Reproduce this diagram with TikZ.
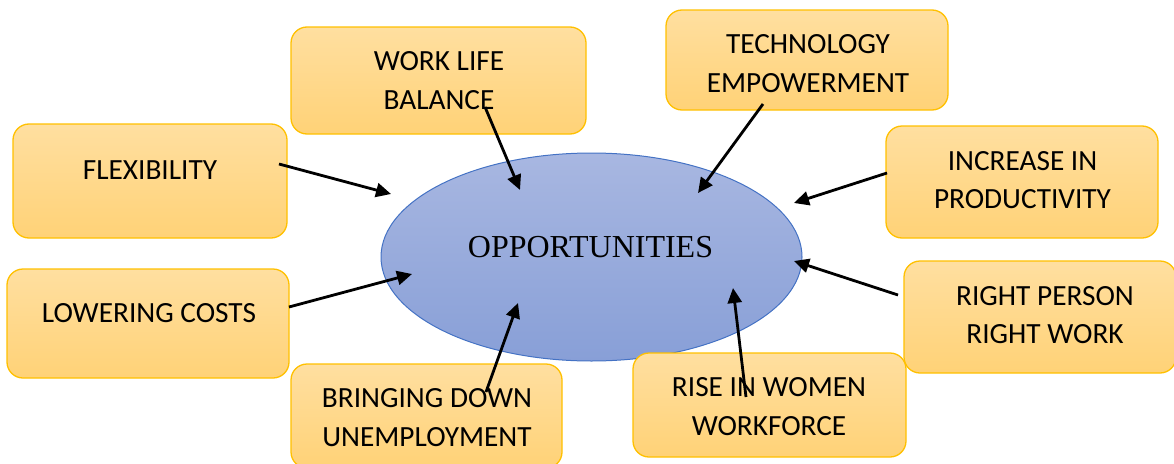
\documentclass[tikz,border=0pt]{standalone}
\usepackage{fontspec}
\newfontfamily\boxfont{Carlito}
\newfontfamily\ellfont{Liberation Serif}
\usetikzlibrary{arrows.meta,shapes.geometric}
\definecolor{boxtop}{HTML}{FFDFA0}
\definecolor{boxbot}{HTML}{FFD277}
\definecolor{boxline}{HTML}{FFC000}
\definecolor{elltop}{HTML}{A8B7E1}
\definecolor{ellbot}{HTML}{889FD7}
\definecolor{ellline}{HTML}{4472C4}
\begin{document}
\begin{tikzpicture}[x=1pt,y=-1pt,
  box/.style={draw=boxline, line width=1.3pt, rounded corners=16pt, top color=boxtop, bottom color=boxbot, inner sep=0pt},
  lbl/.style={font=\boxfont\fontsize{29.3}{38.5}\selectfont, align=center, inner sep=0pt},
  conn/.style={line width=2.8pt, -{Triangle[length=15pt,width=14pt]}}]
\useasboundingbox (0,0) rectangle (1174,463);
\clip (0,0) rectangle (1174,463);
% central ellipse
\node[ellipse, draw=ellline, line width=1pt, top color=elltop, bottom color=ellbot,
      minimum width=421pt, minimum height=208pt, inner sep=0pt] (ell) at (591.5,257) {};
\node[font=\ellfont\fontsize{32}{38}\selectfont, inner sep=0pt] (opp) at (590.5,247) {OPPORTUNITIES};
% boxes
\node[box, minimum width=295pt, minimum height=107pt] (wlb) at (438.5,80.5) {};
\node[box, minimum width=282pt, minimum height=100pt] (tech) at (807,60) {};
\node[box, minimum width=274pt, minimum height=114pt] (flex) at (150,181) {};
\node[box, minimum width=272pt, minimum height=112pt] (inc) at (1022,182) {};
\node[box, minimum width=282pt, minimum height=109pt] (lc) at (148,323.5) {};
\node[box, minimum width=272pt, minimum height=112pt] (rp) at (1040,317) {};
\node[box, minimum width=273pt, minimum height=104pt] (rise) at (769.5,405) {};
\node[box, minimum width=271pt, minimum height=104pt] (bd) at (426.5,416) {};
% labels
\node[lbl] (wlbt) at (439,80.5) {WORK LIFE\\BALANCE};
\node[lbl] (techt) at (808,63.5) {TECHNOLOGY\\EMPOWERMENT};
\node[lbl] (flext) at (150,170) {FLEXIBILITY};
\node[lbl] (inct) at (1022.5,180) {INCREASE IN\\PRODUCTIVITY};
\node[lbl] (lct) at (149,313) {LOWERING COSTS};
\node[lbl] (rpt) at (1045,315) {RIGHT PERSON\\RIGHT WORK};
\node[lbl] (riset) at (769,406.5) {RISE IN WOMEN\\WORKFORCE};
\node[lbl] (bdt) at (427,417.5) {BRINGING DOWN\\UNEMPLOYMENT};
% arrow end points
\coordinate (flexS) at (279,164);  \coordinate (flexE) at (391,194);
\coordinate (wlbS) at (485,107);   \coordinate (wlbE) at (520,190);
\coordinate (techS) at (763,104);  \coordinate (techE) at (698,193);
\coordinate (incS) at (887,173);   \coordinate (incE) at (794,203);
\coordinate (lcS) at (289,307);    \coordinate (lcE) at (412,274);
\coordinate (rpS) at (898,295);    \coordinate (rpE) at (794,261);
\coordinate (bdS) at (486,392);    \coordinate (bdE) at (518,303);
\coordinate (riseS) at (746,397);  \coordinate (riseE) at (733,288);
% connectors
\draw[conn] (flexS) -- (flexE);
\draw[conn] (wlbS) -- (wlbE);
\draw[conn] (techS) -- (techE);
\draw[conn] (incS) -- (incE);
\draw[conn] (lcS) -- (lcE);
\draw[conn] (rpS) -- (rpE);
\draw[conn] (bdS) -- (bdE);
\draw[conn] (riseS) -- (riseE);
\end{tikzpicture}
\end{document}
